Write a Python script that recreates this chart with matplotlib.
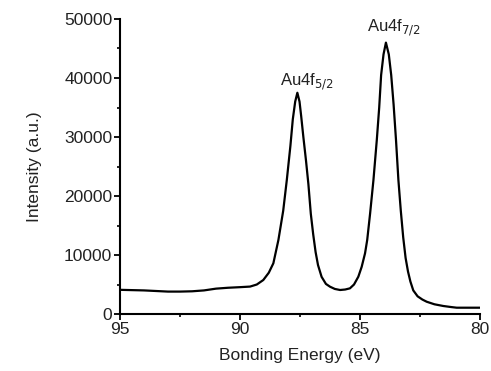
import matplotlib
matplotlib.use("Agg")
import matplotlib.pyplot as plt
from matplotlib.ticker import MultipleLocator

plt.rcParams['font.family'] = ['Liberation Sans', 'DejaVu Sans']

# XPS Au4f spectrum
energy = [95.0, 94.5, 94.0, 93.5, 93.0, 92.5, 92.0, 91.5, 91.0, 90.5, 90.0, 89.58,
          89.3, 89.03, 88.8, 88.61, 88.40, 88.20, 88.05, 87.90, 87.80, 87.70, 87.61,
          87.52, 87.45, 87.36, 87.25, 87.15, 87.05, 86.95, 86.85, 86.75, 86.6, 86.42,
          86.25, 86.05, 85.83, 85.62, 85.42, 85.25, 85.07, 84.93, 84.79, 84.70, 84.58,
          84.44, 84.30, 84.20, 84.12, 84.02, 83.92, 83.80, 83.70, 83.60, 83.50,
          83.40, 83.30, 83.20, 83.10, 83.0, 82.9, 82.78, 82.6, 82.4, 82.22, 81.9,
          81.53, 81.2, 80.97, 80.5, 80.0]
intensity = [4100, 4050, 4000, 3900, 3800, 3800, 3850, 4000, 4300, 4450, 4550, 4650,
             5000, 5760, 7000, 8600, 12540, 17500, 22700, 28500, 33000, 36000, 37500,
             36000, 33500, 30000, 26000, 22000, 17000, 13500, 10500, 8300, 6300, 5100,
             4630, 4250, 4070, 4150, 4350, 5000, 6320, 8000, 10290, 12540, 17000,
             22700, 29500, 35000, 40500, 44000, 46000, 44000, 40500, 35500, 29500,
             22700, 17500, 13000, 9500, 7200, 5500, 4000, 3000, 2450, 2080, 1650,
             1360, 1180, 1070, 1070, 1070]

peak_labels = [r"Au4f$_{5/2}$", r"Au4f$_{7/2}$"]
peak_pos = [(87.2, 37600), (83.6, 46800)]

fig = plt.figure(figsize=(4.91, 3.71), dpi=100)
ax = fig.add_axes([0.2444, 0.1536, 0.7332, 0.7952])

ax.plot(energy, intensity, color='black', lw=1.6)

ax.set_xlim(95, 80)
ax.set_ylim(0, 50000)
ax.xaxis.set_major_locator(MultipleLocator(5))
ax.xaxis.set_minor_locator(MultipleLocator(2.5))
ax.yaxis.set_major_locator(MultipleLocator(10000))
ax.yaxis.set_minor_locator(MultipleLocator(5000))

for s in ['top', 'right']:
    ax.spines[s].set_visible(False)
for s in ['left', 'bottom']:
    ax.spines[s].set_linewidth(1.5)

ax.tick_params(which='major', direction='out', length=4, width=1.3,
               labelsize=12.5, labelcolor='#222222', pad=1.5)
ax.tick_params(which='minor', direction='out', length=2.5, width=1.2)

for lab, (x, y) in zip(peak_labels, peak_pos):
    ax.text(x, y, lab, ha='center', va='bottom', fontsize=12, color='#222222')

ax.set_xlabel("Bonding Energy (eV)", fontsize=12.5, color='#222222', labelpad=8)
ax.set_ylabel("Intensity (a.u.)", fontsize=12.5, color='#222222', labelpad=16)

fig.savefig("out.png", dpi=100)
